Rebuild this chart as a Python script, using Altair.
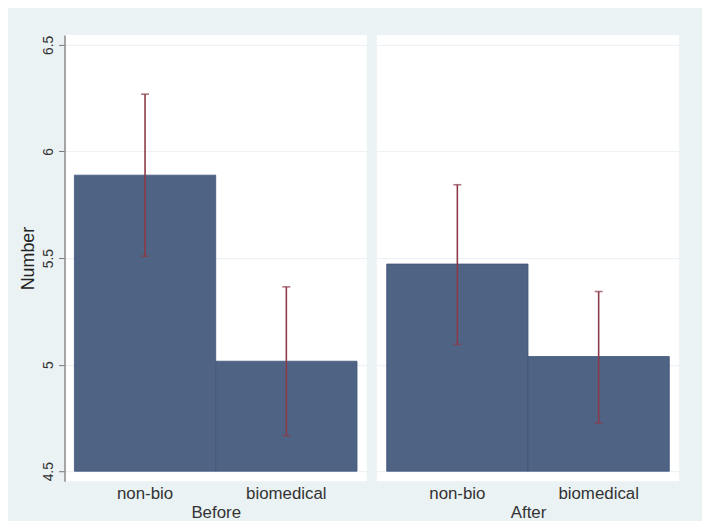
import altair as alt
import pandas as pd

periods = ["Before", "Before", "After", "After"]
groups = ["non-bio", "biomedical", "non-bio", "biomedical"]
means = [5.889, 5.016, 5.472, 5.038]
lower = [5.509, 4.667, 5.095, 4.727]
upper = [6.269, 5.365, 5.844, 5.343]
baseline = 4.5
y_ticks = [4.5, 5, 5.5, 6, 6.5]
group_order = ["non-bio", "biomedical"]

df = pd.DataFrame({
    "period": periods,
    "group": groups,
    "mean": means,
    "lo": lower,
    "hi": upper,
    "base": [baseline] * len(means),
})

FONT = "Liberation Sans"
BAR = "#4F6484"
ERR = "#8B3A47"
BG = "#EAF2F3"
GRID = "#EDF2F5"

ydom = [4.4535, 6.5465]


def panel(period, first):
    d = df[df["period"] == period]
    xenc = alt.X(
        "group:N",
        sort=group_order,
        scale=alt.Scale(paddingInner=0, paddingOuter=0.07),
        axis=alt.Axis(
            title=period, labelAngle=0, domain=False, ticks=False,
            labelFontSize=17, titleFontSize=17, titleFontWeight="normal",
            labelPadding=5, titlePadding=3, labelColor="#333333",
            titleColor="#333333", labelFont=FONT, titleFont=FONT,
        ),
    )
    if first:
        yaxis = alt.Axis(
            title="Number", values=y_ticks, format="~g", labelAngle=-90,
            labelAlign="center", labelBaseline="bottom", labelFontSize=14,
            titleFontSize=18, titleFontWeight="normal", tickSize=6,
            tickColor="#777777", domainColor="#888888", domainWidth=1.5,
            labelPadding=3, titlePadding=4, grid=True, gridColor=GRID,
            gridWidth=1.2, labelColor="#333333", titleColor="#222222",
            labelFont=FONT, titleFont=FONT,
        )
    else:
        yaxis = alt.Axis(
            title=None, values=y_ticks, labels=False, ticks=False, domain=False,
            grid=True, gridColor=GRID, gridWidth=1.2,
        )
    yscale = alt.Scale(domain=ydom, nice=False, zero=False)
    base = alt.Chart(d)
    bars = base.mark_bar(color=BAR, stroke="#42557a", strokeWidth=0.8).encode(
        x=xenc,
        y=alt.Y("mean:Q", scale=yscale, axis=yaxis),
        y2="base:Q",
    )
    rule = base.mark_rule(color=ERR, strokeWidth=1.6).encode(
        x=alt.X("group:N", sort=group_order),
        y="lo:Q",
        y2="hi:Q",
    )
    cap_lo = base.mark_tick(color=ERR, size=8, thickness=1.6).encode(
        x=alt.X("group:N", sort=group_order),
        y="lo:Q",
    )
    cap_hi = base.mark_tick(color=ERR, size=8, thickness=1.6).encode(
        x=alt.X("group:N", sort=group_order),
        y="hi:Q",
    )
    return alt.layer(bars, rule, cap_lo, cap_hi).properties(width=305, height=450)


chart = alt.hconcat(panel("Before", True), panel("After", False), spacing=10).properties(
    background=BG,
    padding={"left": 12, "top": 25, "right": 23, "bottom": 0},
).configure_view(stroke=None, fill="white")

chart.save("out.html", embed_options={"renderer": "svg", "actions": False})
